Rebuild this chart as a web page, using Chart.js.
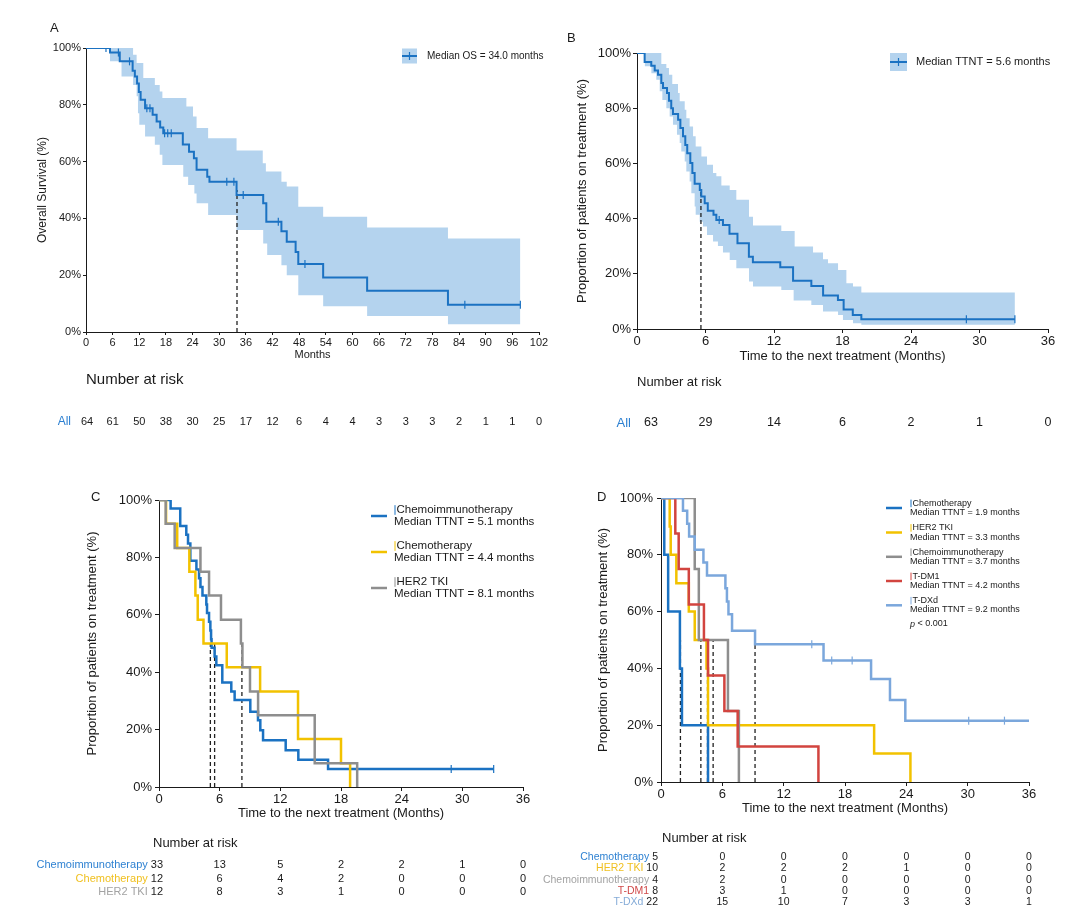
<!DOCTYPE html>
<html>
<head>
<meta charset="utf-8">
<script src="https://cdn.jsdelivr.net/npm/chart.js@4.4.1/dist/chart.umd.min.js"></script>
<style>
  html, body { margin: 0; padding: 0; background: #fff; }
  #wrap { position: relative; width: 1080px; height: 915px; overflow: hidden; }
  #wrap canvas { position: absolute; left: 0; top: 0; }
</style>
</head>
<body>
<div id="wrap">
  <canvas id="panelA" width="1080" height="915"></canvas>
  <canvas id="panelB" width="1080" height="915"></canvas>
  <canvas id="panelC" width="1080" height="915"></canvas>
  <canvas id="panelD" width="1080" height="915"></canvas>
</div>
<script>
// ---- data (months, % surviving / on treatment) ----
const yTicks = [0, 20, 40, 60, 80, 100];
const osTicks = [0, 6, 12, 18, 24, 30, 36, 42, 48, 54, 60, 66, 72, 78, 84, 90, 96, 102];
const ttntTicks = [0, 6, 12, 18, 24, 30, 36];

// A: overall survival
const osTime = [0, 5.4, 7.6, 10.5, 11.0, 11.5, 11.9, 12.3, 13.3, 15.0, 15.9, 16.7, 17.4, 21.8, 23.2, 24.3, 24.9, 27.3, 27.8, 33.9, 39.9, 40.6, 44.0, 45.2, 47.2, 47.8, 53.4, 63.3, 81.5, 97.8];
const osSurv = [100, 98.4, 95.3, 92.0, 90.0, 87.5, 84.5, 81.8, 78.8, 76.5, 74.1, 72.0, 70.0, 66.0, 63.5, 61.2, 57.1, 54.7, 52.9, 48.2, 45.3, 38.8, 35.5, 31.8, 28.2, 23.9, 19.2, 14.5, 9.6, 9.6];
const osUpTime = [5.4, 10.6, 11.4, 12.9, 15.5, 16.6, 17.2, 22.6, 24.1, 24.9, 27.5, 33.9, 39.8, 40.5, 44.0, 45.2, 47.8, 53.4, 63.3, 81.5, 97.8];
const osUp = [100, 97.6, 94.7, 89.4, 87.0, 84.7, 82.4, 79.4, 75.9, 71.8, 68.2, 63.9, 59.4, 56.5, 52.9, 51.2, 44.1, 40.6, 36.8, 32.9, 32.9];
const osLoTime = [5.4, 8.0, 10.6, 11.4, 11.7, 12.0, 13.3, 15.5, 16.6, 17.2, 21.9, 23.0, 24.4, 24.9, 27.5, 33.9, 39.9, 40.8, 44.0, 45.2, 47.8, 53.4, 63.3, 81.5, 97.8];
const osLo = [95.3, 90.0, 87.0, 83.0, 77.0, 73.0, 68.8, 65.9, 62.4, 58.8, 54.7, 51.8, 48.8, 45.3, 41.2, 35.9, 31.2, 27.1, 23.5, 20.0, 12.9, 9.1, 5.6, 2.7, 2.7];
const osCensor = [4.5, 7.3, 9.8, 13.7, 14.4, 17.7, 18.4, 19.2, 31.7, 33.3, 35.4, 43.3, 49.3, 85.3, 97.8];
const osMedian = [34.0];
const osRisk = [64, 61, 50, 38, 30, 25, 17, 12, 6, 4, 4, 3, 3, 3, 2, 1, 1, 0];

// B: time to next treatment, all patients
const ttTime = [0, 0.67, 1.25, 1.55, 1.84, 2.13, 2.28, 2.63, 2.8, 3.0, 3.15, 3.6, 3.8, 4.03, 4.23, 4.4, 4.67, 4.85, 5.05, 5.5, 5.63, 5.93, 6.2, 6.7, 6.95, 7.53, 8.1, 8.8, 9.8, 10.15, 12.55, 13.67, 15.27, 16.3, 17.6, 18.1, 18.9, 19.65, 33.1];
const ttSurv = [100, 96.7, 95.4, 93.7, 92.1, 89.1, 87.3, 85.5, 82.7, 80, 77.9, 75.8, 72.8, 69.8, 66.7, 63.7, 60.1, 56.5, 52.6, 50.4, 48, 45.6, 42.8, 41.4, 39.5, 37.7, 34.5, 31.1, 26.2, 24.2, 22.4, 17.5, 15.6, 12.1, 10.5, 7.1, 5.1, 3.5, 3.5];
const ttUpTime = [0.67, 2.13, 2.57, 2.8, 3.09, 3.59, 3.74, 4.18, 4.32, 4.61, 4.91, 5.14, 5.64, 6.13, 6.66, 6.95, 7.39, 8.12, 8.7, 9.81, 10.16, 12.64, 13.81, 15.42, 16.29, 16.73, 17.61, 18.34, 18.92, 19.65, 33.1];
const ttUp = [100, 96, 94.6, 92.1, 88.8, 85.5, 82.5, 79.4, 76.4, 73.4, 69.8, 66.1, 62.5, 59.5, 56.5, 55.3, 52, 50.4, 46.8, 40.7, 37.5, 35.5, 29.9, 27.7, 25.3, 23.8, 21.4, 16.6, 15.4, 13.2, 13.2];
const ttLoTime = [0.67, 1.26, 1.69, 1.99, 2.22, 2.57, 2.86, 3.15, 3.5, 3.74, 3.88, 4.18, 4.32, 4.61, 4.76, 5.05, 5.14, 5.49, 5.78, 6.13, 6.66, 7.09, 7.53, 8.12, 8.7, 9.81, 10.16, 12.64, 13.72, 15.27, 16.29, 17.61, 18.04, 18.92, 19.65, 33.1];
const ttLo = [95.2, 92.7, 90.3, 86.1, 83, 80, 77, 74, 70.4, 67.4, 64.3, 60.7, 57.1, 53.4, 49.2, 44.4, 41.4, 38.9, 37.1, 34.1, 31.7, 30.1, 27.7, 25, 22, 17.2, 15.4, 14.1, 10.3, 8.7, 6.3, 5.1, 3.3, 2.1, 1.5, 1.5];
const ttCensor = [7.2, 28.85, 33.1];
const ttMedian = [5.6];
const ttRisk = [63, 29, 14, 6, 2, 1, 0];

// C: by first-line regimen
const cCimTime = [0, 1.15, 2.1, 2.7, 2.87, 3.1, 3.7, 3.96, 4.1, 4.3, 4.68, 4.75, 4.95, 5.08, 5.15, 5.2, 5.5, 5.67, 6.26, 7.15, 7.48, 9.03, 9.79, 10.02, 10.29, 12.53, 13.78, 16.72, 33.1];
const cCimSurv = [100, 97, 90.9, 87.9, 84.8, 78.8, 75.8, 72.7, 69.7, 66.7, 63.6, 60.6, 57.6, 54.5, 51.5, 48.5, 45.5, 42.4, 36.4, 33.3, 30.3, 26.2, 23.3, 19.8, 16.3, 12.8, 9.5, 6.3, 6.3];
const cCimCensor = [28.9, 33.1];
const cChemoTime = [0, 0.7, 1.8, 3.0, 3.6, 3.83, 4.4, 6.7, 10.0, 13.75, 18.0, 18.9];
const cChemoSurv = [100, 91.7, 83.3, 75, 66.7, 58.3, 50, 41.7, 33.3, 16.7, 8.3, 0];
const cTkiTime = [0, 0.66, 1.55, 4.1, 4.95, 6.13, 8.1, 8.25, 9.0, 9.8, 15.4, 19.6];
const cTkiSurv = [100, 91.7, 83.3, 75, 66.7, 58.3, 50, 41.7, 33.3, 25, 8.3, 0];
const cMedians = [5.08, 5.5, 8.2];
const cRiskCim = [33, 13, 5, 2, 2, 1, 0];
const cRiskChemo = [12, 6, 4, 2, 0, 0, 0];
const cRiskTki = [12, 8, 3, 1, 0, 0, 0];

// D: by second-line regimen
const dChemoTime = [0, 0.32, 0.7, 1.85, 2.05, 4.6];
const dChemoSurv = [100, 80, 60, 40, 20, 0];
const dTkiTime = [0, 0.85, 0.95, 1.5, 2.72, 3.3, 4.45, 4.6, 20.85, 24.4];
const dTkiSurv = [100, 90, 80, 70, 60, 50, 40, 20, 10, 0];
const dCimTime = [0, 3.3, 3.7, 6.55, 7.62];
const dCimSurv = [100, 75, 50, 25, 0];
const dTdm1Time = [0, 1.4, 1.73, 2.72, 4.2, 4.6, 6.2, 7.5, 15.4];
const dTdm1Surv = [100, 87.5, 75, 62.5, 50, 37.5, 25, 12.5, 0];
const dTdxdTime = [0, 2.15, 2.56, 2.75, 3.3, 4.15, 4.5, 6.3, 6.45, 6.6, 6.95, 9.2, 15.9, 20.55, 22.4, 23.9, 36];
const dTdxdSurv = [100, 95.5, 90.9, 86.4, 81.8, 77.3, 72.7, 68.2, 63.6, 59.1, 53.3, 48.5, 42.8, 36.3, 28.9, 21.6, 21.6];
const dTdxdCensor = [14.75, 16.7, 18.7, 30.1, 33.6];
const dMedians = [1.9, 3.9, 4.55, 5.1, 9.2];
const dRiskChemo = [5, 0, 0, 0, 0, 0, 0];
const dRiskTki = [10, 2, 2, 2, 1, 0, 0];
const dRiskCim = [4, 2, 0, 0, 0, 0, 0];
const dRiskTdm1 = [8, 3, 1, 0, 0, 0, 0];
const dRiskTdxd = [22, 15, 10, 7, 3, 3, 1];

// ---- styling ----
const FONT = '"Liberation Sans", Arial, Helvetica, sans-serif';
const INK = '#1a1a1a';
const BLUE = '#1b72c2';
const BAND = '#b4d3ee';
const YELLOW = '#f2c200';
const GRAY = '#8e8e8e';
const RED = '#d2443f';
const LIGHT = '#7ba7dc';

// ---- helpers ----
const pts = (t, v) => t.map((x, i) => ({ x: x, y: v[i] }));
function survAt(t, v, at) {
  let s = v[0];
  for (let i = 0; i < t.length; i++) if (t[i] <= at) s = v[i];
  return s;
}
// later curves are drawn on top (lower order = on top)
function curve(t, v, color, w, layer) {
  return { data: pts(t, v), stepped: true, borderColor: color, borderWidth: w, pointRadius: 0, fill: false, order: 20 - (layer || 0) };
}
function censors(at, t, v, color) {
  return {
    data: at.map(x => ({ x: x, y: survAt(t, v, x) })), showLine: false,
    pointStyle: 'line', pointRotation: 90, pointRadius: 4, pointBorderWidth: 1.2,
    pointBorderColor: color, pointBackgroundColor: color, order: 0
  };
}
function medianLine(m) {
  return { data: [{ x: m, y: 0 }, { x: m, y: 50 }], borderColor: '#222', borderWidth: 1.3, borderDash: [4, 3], pointRadius: 0, fill: false, order: 25 };
}
function band(loT, lo, upT, up, loIndex) {
  return [
    { data: pts(loT, lo), stepped: true, borderColor: 'rgba(0,0,0,0)', pointRadius: 0, fill: false, order: 30 },
    { data: pts(upT, up), stepped: true, borderColor: 'rgba(0,0,0,0)', pointRadius: 0, backgroundColor: BAND, fill: { target: loIndex }, order: 30 }
  ];
}

function text(ctx, s, x, y, size, color, align, style) {
  ctx.font = (style || '') + ' ' + size + 'px ' + FONT;
  ctx.fillStyle = color;
  ctx.textAlign = align || 'left';
  ctx.textBaseline = 'middle';
  ctx.fillText(s, x, y);
}

// legend, panel letter and number-at-risk table, drawn with the x scale
function extras(o) {
  return {
    id: 'extras',
    afterDraw(chart) {
      const ctx = chart.ctx, xs = chart.scales.x;
      ctx.save();
      text(ctx, o.letter[0], o.letter[1], o.letter[2], 13, INK, 'left');

      const lg = o.legend;
      if (lg.type === 'band') {
        ctx.fillStyle = BAND;
        ctx.fillRect(lg.x, lg.y, lg.w, lg.h);
        ctx.strokeStyle = BLUE; ctx.lineWidth = 2;
        ctx.beginPath(); ctx.moveTo(lg.x, lg.y + lg.h / 2); ctx.lineTo(lg.x + lg.w, lg.y + lg.h / 2); ctx.stroke();
        ctx.lineWidth = 1.2;
        ctx.beginPath(); ctx.moveTo(lg.x + lg.w / 2, lg.y + lg.h / 2 - 4); ctx.lineTo(lg.x + lg.w / 2, lg.y + lg.h / 2 + 4); ctx.stroke();
        text(ctx, lg.text, lg.textX, lg.y + lg.h / 2, lg.size, INK, 'left');
      } else {
        lg.items.forEach(it => {
          ctx.strokeStyle = it.color; ctx.lineWidth = 2.5;
          ctx.beginPath(); ctx.moveTo(lg.x0, it.y); ctx.lineTo(lg.x1, it.y); ctx.stroke();
          const y1 = it.y - lg.dy, y2 = it.y + lg.dy;
          ctx.lineWidth = 1;
          ctx.beginPath(); ctx.moveTo(lg.tx + 1, y1 - lg.size * 0.42); ctx.lineTo(lg.tx + 1, y1 + lg.size * 0.42); ctx.stroke();
          text(ctx, it.name, lg.tx + 2.5, y1, lg.size, INK, 'left');
          text(ctx, it.median, lg.tx, y2, lg.size, INK, 'left');
        });
        if (lg.p) {
          text(ctx, 'p', lg.tx, lg.p, lg.size, INK, 'left', 'italic');
          ctx.font = 'italic ' + lg.size + 'px ' + FONT;
          const w = ctx.measureText('p').width;
          text(ctx, ' < 0.001', lg.tx + w, lg.p, lg.size, INK, 'left');
        }
      }

      const r = o.risk;
      text(ctx, 'Number at risk', r.titleX, r.titleY, r.titleSize, INK, 'left');
      r.rows.forEach(row => {
        const x0 = xs.getPixelForValue(r.times[0]);
        let labelRight;
        row.values.forEach((v, i) => {
          const px = xs.getPixelForValue(r.times[i]);
          if (i === 0 && r.firstAlign === 'right') {
            text(ctx, String(v), x0 + r.firstDx, row.y, r.size, INK, 'right');
            labelRight = x0 + r.firstDx - ctx.measureText(String(v)).width - r.gap;
          } else {
            text(ctx, String(v), px + (i === 0 ? r.firstDx : 0), row.y, r.size, INK, 'center');
          }
        });
        if (r.labelX !== undefined) labelRight = r.labelX;
        text(ctx, row.label, labelRight, row.y, row.labelSize || r.size, row.color, 'right');
      });
      ctx.restore();
    }
  };
}

function makeChart(id, g, datasets, o) {
  const tickFont = { family: FONT, size: g.tickSize };
  const titleFont = { family: FONT, size: g.titleSize };
  return new Chart(document.getElementById(id), {
    type: 'line',
    data: { datasets: datasets },
    options: {
      responsive: false,
      animation: false,
      events: [],
      layout: { padding: { left: g.left, top: g.top, right: 1080 - g.right, bottom: 915 - g.bottom - g.xH } },
      plugins: { legend: { display: false }, tooltip: { enabled: false } },
      scales: {
        x: {
          type: 'linear', min: g.xTicks[0], max: g.xTicks[g.xTicks.length - 1],
          afterBuildTicks: s => { s.ticks = g.xTicks.map(v => ({ value: v })); },
          afterFit: s => { s.height = g.xH; s.paddingLeft = 0; s.paddingRight = 0; },
          ticks: { autoSkip: false, maxRotation: 0, padding: 1, font: tickFont, color: INK },
          grid: { drawOnChartArea: false, tickLength: g.tickLen, color: INK },
          border: { color: INK, width: 1 },
          title: { display: true, text: g.xTitle, font: g.xTitleFont || titleFont, color: INK, padding: { top: 4, bottom: 4 } }
        },
        y: {
          type: 'linear', min: 0, max: 100,
          afterBuildTicks: s => { s.ticks = yTicks.map(v => ({ value: v })); },
          afterFit: s => { s.width = g.yW; s.paddingTop = 0; s.paddingBottom = 0; },
          ticks: { padding: g.yPad, font: tickFont, color: INK, callback: v => v + '%' },
          grid: { drawOnChartArea: false, tickLength: g.tickLen, color: INK },
          border: { color: INK, width: 1 },
          title: { display: true, text: g.yTitle, font: titleFont, color: INK, padding: { top: 4, bottom: 4 } }
        }
      }
    },
    plugins: [extras(o)]
  });
}

// ---- panel A ----
makeChart('panelA',
  { left: 31, yW: 55, top: 48, right: 539, bottom: 332, xH: 34, tickSize: 11, titleSize: 12, xTitleFont: { family: FONT, size: 11 },
    tickLen: 3, yPad: 2, xTicks: osTicks, xTitle: 'Months', yTitle: 'Overall Survival (%)' },
  [curve(osTime, osSurv, BLUE, 2), censors(osCensor, osTime, osSurv, BLUE)]
    .concat(osMedian.map(medianLine))
    .concat(band(osLoTime, osLo, osUpTime, osUp, 3)),
  { letter: ['A', 50, 28],
    legend: { type: 'band', x: 402, y: 48.5, w: 15, h: 15, textX: 427, text: 'Median OS = 34.0 months', size: 10 },
    risk: { times: osTicks, titleX: 86, titleY: 380, titleSize: 15, size: 11, firstDx: 1, labelX: 71,
      rows: [{ label: 'All', values: osRisk, y: 421.5, color: '#2b7fd1', labelSize: 12 }] } });

// ---- panel B ----
makeChart('panelB',
  { left: 571, yW: 66, top: 53, right: 1048, bottom: 329, xH: 39, tickSize: 13, titleSize: 13,
    tickLen: 4, yPad: 2, xTicks: ttntTicks, xTitle: 'Time to the next treatment (Months)', yTitle: 'Proportion of patients on treatment (%)' },
  [curve(ttTime, ttSurv, BLUE, 2), censors(ttCensor, ttTime, ttSurv, BLUE)]
    .concat(ttMedian.map(medianLine))
    .concat(band(ttLoTime, ttLo, ttUpTime, ttUp, 3)),
  { letter: ['B', 567, 38],
    legend: { type: 'band', x: 890, y: 53, w: 17, h: 18, textX: 916, text: 'Median TTNT = 5.6 months', size: 11 },
    risk: { times: ttntTicks, titleX: 637, titleY: 382, titleSize: 13, size: 12.5, firstDx: 14, labelX: 631,
      rows: [{ label: 'All', values: ttRisk, y: 423, color: '#2b7fd1', labelSize: 13 }] } });

// ---- panel C ----
makeChart('panelC',
  { left: 81, yW: 78, top: 500, right: 523, bottom: 787, xH: 38, tickSize: 13, titleSize: 13,
    tickLen: 4, yPad: 3, xTicks: ttntTicks, xTitle: 'Time to the next treatment (Months)', yTitle: 'Proportion of patients on treatment (%)' },
  [curve(cCimTime, cCimSurv, BLUE, 2.5, 0), curve(cChemoTime, cChemoSurv, YELLOW, 2.5, 1), curve(cTkiTime, cTkiSurv, GRAY, 2.5, 2),
   censors(cCimCensor, cCimTime, cCimSurv, BLUE)].concat(cMedians.map(medianLine)),
  { letter: ['C', 91, 497],
    legend: { type: 'lines', x0: 371, x1: 387, tx: 394, dy: 6, size: 11.5,
      items: [
        { color: BLUE, y: 516, name: 'Chemoimmunotherapy', median: 'Median TTNT = 5.1 months' },
        { color: YELLOW, y: 552, name: 'Chemotherapy', median: 'Median TTNT = 4.4 months' },
        { color: GRAY, y: 588, name: 'HER2 TKI', median: 'Median TTNT = 8.1 months' }
      ] },
    risk: { times: ttntTicks, titleX: 153, titleY: 843, titleSize: 13, size: 11, firstAlign: 'right', firstDx: 4, gap: 3,
      rows: [
        { label: 'Chemoimmunotherapy', values: cRiskCim, y: 865, color: '#2f82d2' },
        { label: 'Chemotherapy', values: cRiskChemo, y: 878.5, color: '#f0c020' },
        { label: 'HER2 TKI', values: cRiskTki, y: 892, color: '#a3a3a3' }
      ] } });

// ---- panel D ----
makeChart('panelD',
  { left: 592, yW: 69, top: 498, right: 1029, bottom: 782, xH: 38, tickSize: 13, titleSize: 13,
    tickLen: 4, yPad: 4, xTicks: ttntTicks, xTitle: 'Time to the next treatment (Months)', yTitle: 'Proportion of patients on treatment (%)' },
  [curve(dChemoTime, dChemoSurv, BLUE, 2.5, 0), curve(dTkiTime, dTkiSurv, YELLOW, 2.5, 1), curve(dCimTime, dCimSurv, GRAY, 2.5, 2),
   curve(dTdm1Time, dTdm1Surv, RED, 2.5, 3), curve(dTdxdTime, dTdxdSurv, LIGHT, 2.5, 4),
   censors(dTdxdCensor, dTdxdTime, dTdxdSurv, LIGHT)].concat(dMedians.map(medianLine)),
  { letter: ['D', 597, 497],
    legend: { type: 'lines', x0: 886, x1: 902, tx: 910, dy: 4.6, size: 9, p: 624,
      items: [
        { color: BLUE, y: 508, name: 'Chemotherapy', median: 'Median TTNT = 1.9 months' },
        { color: YELLOW, y: 532.5, name: 'HER2 TKI', median: 'Median TTNT = 3.3 months' },
        { color: GRAY, y: 556.8, name: 'Chemoimmunotherapy', median: 'Median TTNT = 3.7 months' },
        { color: RED, y: 581, name: 'T-DM1', median: 'Median TTNT = 4.2 months' },
        { color: LIGHT, y: 605.3, name: 'T-DXd', median: 'Median TTNT = 9.2 months' }
      ] },
    risk: { times: ttntTicks, titleX: 662, titleY: 838, titleSize: 13, size: 10.5, firstAlign: 'right', firstDx: -3, gap: 3,
      rows: [
        { label: 'Chemotherapy', values: dRiskChemo, y: 857, color: '#2f82d2' },
        { label: 'HER2 TKI', values: dRiskTki, y: 868.5, color: '#f0c020' },
        { label: 'Chemoimmunotherapy', values: dRiskCim, y: 880, color: '#a3a3a3' },
        { label: 'T-DM1', values: dRiskTdm1, y: 891, color: '#d04a4a' },
        { label: 'T-DXd', values: dRiskTdxd, y: 902.5, color: '#86acd8' }
      ] } });
</script>
</body>
</html>
